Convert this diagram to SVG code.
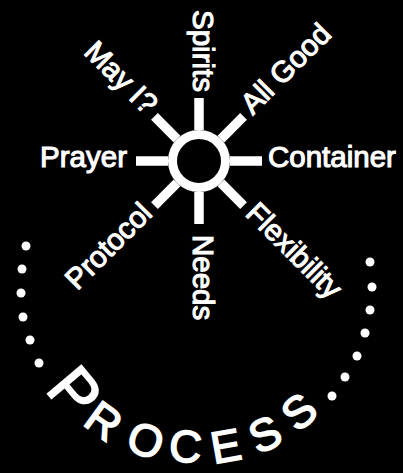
<svg xmlns="http://www.w3.org/2000/svg" width="403" height="473" viewBox="0 0 403 473">
<style>
.lbl{font-family:"Liberation Sans",Arial,sans-serif;font-size:29.5px;fill:#fff;stroke:#fff;stroke-width:1.1px}
.spoke{stroke:#fff;stroke-width:9.5;fill:none}
.ring{stroke:#fff;stroke-width:9;fill:none}
.pc{font-family:"Liberation Sans",Arial,sans-serif;fill:#fff;stroke:#fff;stroke-width:1.6px;text-anchor:middle}
.dot{fill:#fff}
</style>
<rect width="403" height="473" fill="#000"/>
<g id="connectors" transform="translate(199,161)">
<g class="spoke">
<line x1="31" y1="0" x2="63" y2="0"/>
<line x1="31" y1="0" x2="63" y2="0" transform="rotate(45)"/>
<line x1="31" y1="0" x2="63" y2="0" transform="rotate(90)"/>
<line x1="31" y1="0" x2="63" y2="0" transform="rotate(135)"/>
<line x1="31" y1="0" x2="63" y2="0" transform="rotate(180)"/>
<line x1="31" y1="0" x2="63" y2="0" transform="rotate(225)"/>
<line x1="31" y1="0" x2="63" y2="0" transform="rotate(270)"/>
<line x1="31" y1="0" x2="63" y2="0" transform="rotate(315)"/>
</g>
</g>
<g id="hub"><circle class="ring" cx="199" cy="161" r="26.5"/></g>
<g id="spirits" transform="translate(199,161) rotate(90)"><text class="lbl" x="-69" y="6" text-anchor="end">Spirits</text></g>
<g id="allgood" transform="translate(199,161) rotate(-45)"><text class="lbl" x="70" y="6">All Good</text></g>
<g id="container" transform="translate(199,161)"><text class="lbl" x="69" y="6">Container</text></g>
<g id="flexibility" transform="translate(199,161) rotate(45)"><text class="lbl" x="70" y="6">Flexibility</text></g>
<g id="needs" transform="translate(199,161) rotate(90)"><text class="lbl" x="74" y="6">Needs</text></g>
<g id="protocol" transform="translate(199,161) rotate(-45)"><text class="lbl" x="-70" y="6" text-anchor="end">Protocol</text></g>
<g id="prayer" transform="translate(199,161)"><text class="lbl" x="-72" y="6" text-anchor="end">Prayer</text></g>
<g id="mayi" transform="translate(199,161) rotate(45)"><text class="lbl" x="-70" y="6" text-anchor="end">May I?</text></g>
<g id="process">
<g class="dot">
<circle cx="26" cy="246" r="4.5"/><circle cx="22" cy="269" r="4.5"/><circle cx="21" cy="293" r="4.5"/><circle cx="23" cy="317" r="4.5"/><circle cx="30" cy="340" r="4.5"/><circle cx="39" cy="363" r="4.5"/>
<circle cx="370" cy="262" r="4.5"/><circle cx="372" cy="287" r="4.5"/><circle cx="370" cy="310" r="4.5"/><circle cx="365" cy="333" r="4.5"/><circle cx="357" cy="356" r="4.5"/><circle cx="345" cy="377" r="4.5"/><circle cx="332" cy="396" r="4.5"/>
</g>
<text class="pc" font-size="64" transform="translate(58,406) rotate(50)">P</text>
<text class="pc" font-size="45" transform="translate(94.7,433.6) rotate(36)">R</text>
<text class="pc" font-size="45" transform="translate(140.5,455) rotate(20)">O</text>
<text class="pc" font-size="45" transform="translate(184.3,462) rotate(5)">C</text>
<text class="pc" font-size="45" transform="translate(228.5,461.5) rotate(-10)">E</text>
<text class="pc" font-size="45" transform="translate(271.7,448.3) rotate(-25)">S</text>
<text class="pc" font-size="45" transform="translate(309,423.7) rotate(-40)">S</text>
</g>
</svg>
